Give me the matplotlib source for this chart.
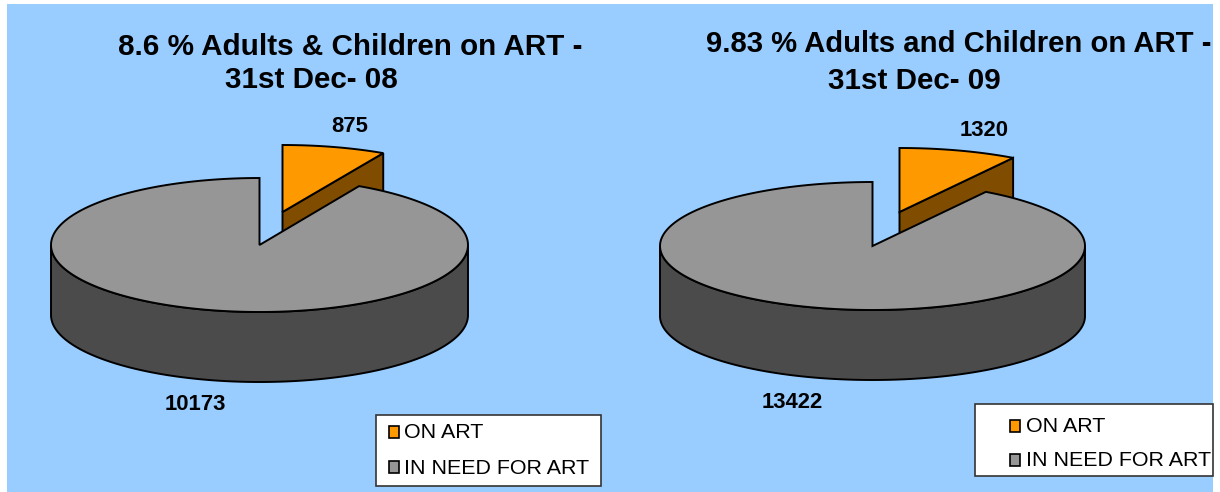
import numpy as np
import matplotlib
matplotlib.use('Agg')
import matplotlib.pyplot as plt
from matplotlib.patches import Polygon, Rectangle

plt.rcParams['font.family'] = ['Liberation Sans', 'DejaVu Sans']

title_lines = [['8.6 % Adults & Children on ART -', '31st Dec- 08'],
               ['9.83 % Adults and Children on ART -', '31st Dec- 09']]
on_art = [875, 1320]
in_need = [10173, 13422]
legend_labels = ['ON ART', 'IN NEED FOR ART']

orange = '#ff9900'
orange_dark = '#7f4c00'
grey = '#969696'
grey_dark = '#4b4b4b'
bg = '#99ccff'


def arc(cx, cy, rx, ry, a0, a1, dy=0):
    # angles clockwise from 12 o'clock, like the pie starts
    t = np.radians(np.linspace(a0, a1, 200))
    return np.column_stack([cx + rx * np.sin(t), cy - ry * np.cos(t) + dy])


def pie3d(ax, small, big, cx, cy, rx, ry, depth, ox, oy, slice_rx):
    ang = 360 * small / (small + big)
    sx, sy = cx + ox, cy + oy

    # exploded slice, side wall first
    p0 = np.array([sx, sy])
    p1 = arc(sx, sy, slice_rx, ry, ang, ang, 0)[0]
    wall = [p0, p1, p1 + [0, depth], p0 + [0, depth]]
    ax.add_patch(Polygon(wall, fc=orange_dark, ec='black', lw=1.4, zorder=2))
    top = np.vstack([p0, arc(sx, sy, slice_rx, ry, 0, ang)])
    ax.add_patch(Polygon(top, fc=orange, ec='black', lw=1.4, zorder=3))

    # big slice, rim only shows on the front half
    upper = arc(cx, cy, rx, ry, 90, 270)
    lower = arc(cx, cy, rx, ry, 270, 90, depth)
    ax.add_patch(Polygon(np.vstack([upper, lower]), fc=grey_dark, ec='black', lw=1.4, zorder=4))
    top = np.vstack([[cx, cy], arc(cx, cy, rx, ry, ang, 360)])
    ax.add_patch(Polygon(top, fc=grey, ec='black', lw=1.4, zorder=5))


def legend(ax, x0, y0, x1, y1, sx, tx, y_on, y_need):
    ax.add_patch(Rectangle((x0, y0), x1 - x0, y1 - y0, fc='white', ec='#333333', lw=1.2, zorder=6))
    for y, col, lab in zip([y_on, y_need], [orange, grey], legend_labels):
        ax.add_patch(Rectangle((sx, y - 5), 10, 12, fc=col, ec='black', lw=1.2, zorder=7))
        ax.text(tx, y + 2, lab, fontsize=15.4, va='center', ha='left', color='black', zorder=7)


fig = plt.figure(figsize=(12.2, 4.92), dpi=100, facecolor='white')
ax = fig.add_axes([0, 0, 1, 1])
ax.set_xlim(0, 1220)
ax.set_ylim(492, 0)
ax.axis('off')
ax.add_patch(Rectangle((7, 4), 1206, 488, fc=bg, ec='none', zorder=0))

pie3d(ax, on_art[0], in_need[0], 259.5, 245, 208.5, 67, 70, 23, -33, 211)
pie3d(ax, on_art[1], in_need[1], 872.5, 246, 212.5, 64, 70, 27, -34, 213)

# second title line sits left of the first one in the original
ax.text(350, 47, title_lines[0][0], fontsize=21.3, fontweight='bold', ha='center', va='center')
ax.text(311, 80, title_lines[0][1], fontsize=21.3, fontweight='bold', ha='center', va='center')
ax.text(958.5, 44, title_lines[1][0], fontsize=21.1, fontweight='bold', ha='center', va='center')
ax.text(914, 81, title_lines[1][1], fontsize=21.3, fontweight='bold', ha='center', va='center')

ax.text(350, 127, str(on_art[0]), fontsize=15.8, fontweight='bold', ha='center', va='center')
ax.text(984, 131, str(on_art[1]), fontsize=15.8, fontweight='bold', ha='center', va='center')
ax.text(195, 405, str(in_need[0]), fontsize=15.8, fontweight='bold', ha='center', va='center')
ax.text(792, 403, str(in_need[1]), fontsize=15.8, fontweight='bold', ha='center', va='center')

legend(ax, 376, 415, 601, 486, 389, 404, 431, 466)
legend(ax, 975, 404, 1213, 476, 1010, 1026, 425, 459)

fig.savefig('out.png', dpi=100, facecolor='white')
